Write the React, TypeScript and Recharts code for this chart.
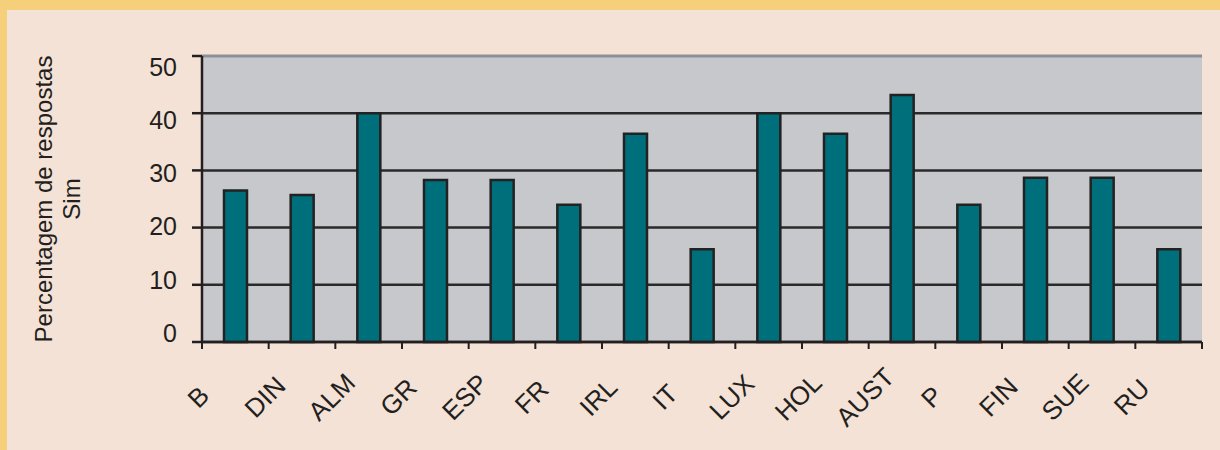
import React from 'react';
import { BarChart, Bar, XAxis, YAxis, CartesianGrid } from 'recharts';

// Percentagem de respostas "Sim" por país
const countries = ['B', 'DIN', 'ALM', 'GR', 'ESP', 'FR', 'IRL', 'IT', 'LUX', 'HOL', 'AUST', 'P', 'FIN', 'SUE', 'RU'];
const simPct = [26.5, 25.7, 40, 28.3, 28.3, 24, 36.4, 16.2, 40, 36.4, 43.2, 24, 28.7, 28.7, 16.2];
const yTicks = [0, 10, 20, 30, 40, 50];

const data = countries.map((pais, i) => ({ pais, sim: simPct[i] }));

const W = 1220;
const H = 450;
const M = { top: 56, right: 18, bottom: 0, left: 142 };
const X_H = 108;
const Y_W = 60;
const PLOT_W = W - M.left - Y_W - M.right;
const BAND = PLOT_W / countries.length;

const INK = '#231f20';
const FONT = '"Liberation Sans", Arial, sans-serif';

const XTick = (props: any) => {
    const { x, y, payload, index } = props;
    const left = x - BAND / 2;
    const cx = x - 37;
    const cy = y + 55;
    return (
        <g>
            <line x1={left} y1={y} x2={left} y2={y + 7} stroke={INK} strokeWidth={2} />
            {index === countries.length - 1 && (
                <line x1={x + BAND / 2} y1={y} x2={x + BAND / 2} y2={y + 7} stroke={INK} strokeWidth={2} />
            )}
            <text
                x={cx}
                y={cy}
                textAnchor="middle"
                dominantBaseline="central"
                transform={`rotate(-45 ${cx} ${cy})`}
                fill={INK}
                fontSize={26}
                fontFamily={FONT}
            >
                {payload.value}
            </text>
        </g>
    );
};

// labels sit on a slightly tighter spacing than the gridlines, like the original
const YTick = (props: any) => {
    const { x, y, payload } = props;
    const ly = 66.7 + (y - M.top) * 0.931;
    return (
        <text x={x - 15} y={ly} textAnchor="end" dominantBaseline="central" fill={INK} fontSize={25} fontFamily={FONT}>
            {payload.value}
        </text>
    );
};

const gridLine = (props: any) => {
    const { x1, y1, x2, y2, y, key } = props;
    const isTop = Math.abs(y1 - y) < 1;
    return (
        <line
            key={key}
            x1={x1}
            y1={y1}
            x2={x2}
            y2={y2}
            stroke={isTop ? '#8f9095' : '#2a2a2a'}
            strokeWidth={isTop ? 3 : 2.5}
        />
    );
};

export default function App() {
    return (
        <div style={{ position: 'relative', width: W, height: H, background: '#f3e2d5', overflow: 'hidden' }}>
            <style>{`body{margin:0}`}</style>
            <div style={{ position: 'absolute', left: 0, top: 0, width: W, height: 10, background: '#f6cf7b' }} />
            <div style={{ position: 'absolute', left: 0, top: 0, width: 7, height: H, background: '#f6cf7b' }} />
            <svg width={W} height={H} style={{ position: 'absolute', left: 0, top: 0 }}>
                <text
                    transform="translate(51.7 199) rotate(-90)"
                    textAnchor="middle"
                    fill={INK}
                    fontSize={24}
                    fontFamily={FONT}
                >
                    Percentagem de respostas
                </text>
                <text
                    transform="translate(80 199) rotate(-90)"
                    textAnchor="middle"
                    fill={INK}
                    fontSize={24}
                    fontFamily={FONT}
                >
                    Sim
                </text>
            </svg>
            <div style={{ position: 'absolute', left: 0, top: 0 }}>
                <BarChart width={W} height={H} data={data} margin={M} barSize={23}>
                    <CartesianGrid
                        fill="#c7c8cc"
                        vertical={false}
                        horizontal={gridLine}
                    />
                    <XAxis
                        dataKey="pais"
                        interval={0}
                        tickLine={false}
                        tickSize={0}
                        tickMargin={0}
                        axisLine={{ stroke: INK, strokeWidth: 2.5 }}
                        tick={<XTick />}
                        height={X_H}
                    />
                    <YAxis
                        domain={[0, 50]}
                        ticks={yTicks}
                        width={Y_W}
                        tickSize={10}
                        tickMargin={0}
                        axisLine={{ stroke: INK, strokeWidth: 2.5 }}
                        tickLine={{ stroke: INK, strokeWidth: 2.5 }}
                        tick={<YTick />}
                    />
                    <YAxis
                        yAxisId="r"
                        orientation="right"
                        domain={[0, 50]}
                        width={0}
                        tick={false}
                        tickLine={false}
                        axisLine={{ stroke: '#8f9095', strokeWidth: 3 }}
                    />
                    <Bar dataKey="sim" fill="#006f7c" stroke="#222222" strokeWidth={2.5} isAnimationActive={false} />
                </BarChart>
            </div>
        </div>
    );
}
